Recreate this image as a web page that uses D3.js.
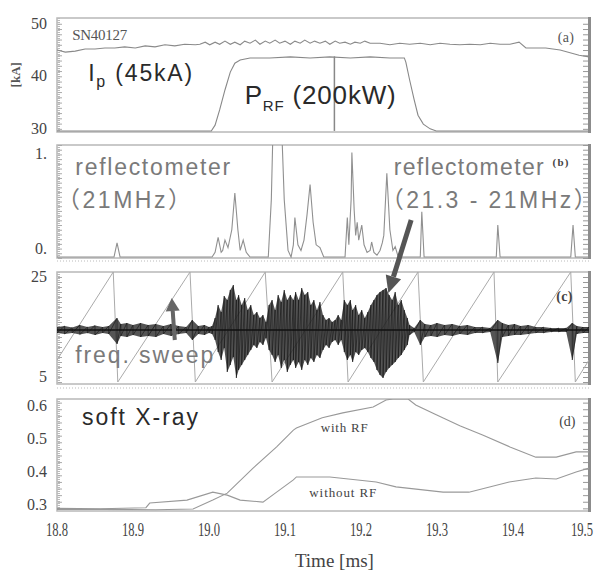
<!DOCTYPE html>
<html>
<head>
<meta charset="utf-8">
<script src="https://cdn.jsdelivr.net/npm/d3@7"></script>
<style>
body { margin: 0; background: #fff; }
svg { display: block; }
.serif { font-family: "Liberation Serif", "Times New Roman", serif; }
.sans { font-family: "Liberation Sans", Arial, "Noto Sans CJK JP", sans-serif; white-space: pre; }
</style>
</head>
<body>
<div id="chart"></div>
<script>
// ---- data (time in ms) ----
const timeTicks = [18.8, 18.9, 19.0, 19.1, 19.2, 19.3, 19.4, 19.5];

// (a) plasma current and RF power [kA scale]
const ipData = [
  [18.800,45.0],[18.811,44.6],[18.824,44.8],[18.837,45.2],[18.850,45.2],[18.863,45.4],[18.876,45.4],
  [18.889,45.6],[18.903,45.4],[18.916,45.8],[18.929,45.6],[18.942,46.0],[18.955,45.8],[18.968,46.1],
  [18.982,46.0],[18.988,46.1],[18.995,46.5],[19.001,46.0],[19.008,46.5],[19.014,46.1],[19.021,46.7],
  [19.028,46.1],[19.034,46.5],[19.041,46.0],[19.047,46.7],[19.054,46.3],[19.061,46.9],[19.067,46.1],
  [19.074,46.7],[19.080,46.3],[19.087,46.9],[19.093,46.3],[19.100,46.7],[19.107,46.1],[19.113,46.7],
  [19.120,46.3],[19.126,46.9],[19.133,46.3],[19.139,46.7],[19.146,46.3],[19.153,46.7],[19.159,46.1],
  [19.166,46.7],[19.172,46.3],[19.179,46.5],[19.186,46.1],[19.192,46.5],[19.199,46.3],[19.205,46.7],
  [19.212,46.3],[19.225,46.3],[19.238,46.0],[19.251,46.3],[19.264,46.1],[19.278,46.3],[19.291,46.0],
  [19.304,46.3],[19.317,46.1],[19.330,46.0],[19.343,46.1],[19.357,46.0],[19.370,46.3],[19.383,46.1],
  [19.396,46.1],[19.408,46.5],[19.417,45.4],[19.443,45.4],[19.462,45.0],[19.487,44.0],[19.500,43.7]
];
const prfData = [
  [18.800,29.6],[19.003,29.6],[19.008,30.7],[19.014,33.6],[19.021,37.4],[19.028,40.8],[19.034,42.5],
  [19.041,43.1],[19.054,43.5],[19.080,43.5],[19.107,43.7],[19.133,43.5],[19.159,43.7],[19.186,43.5],
  [19.212,43.7],[19.238,43.5],[19.257,43.5],[19.259,42.7],[19.264,39.3],[19.270,35.5],[19.275,32.6],
  [19.282,30.9],[19.291,30.0],[19.299,29.6],[19.500,29.6]
];
const markerLine = [[19.165,43.8],[19.165,29.6]];

// (b) reflectometer amplitude
const reflData = [
  [18.800,-0.09],[18.875,-0.09],[18.879,0.06],[18.883,-0.09],[19.004,-0.09],[19.008,-0.04],[19.012,0.12],
  [19.016,-0.04],[19.018,-0.02],[19.021,0.09],[19.025,0.01],[19.030,0.20],[19.034,0.59],[19.038,0.20],
  [19.041,-0.02],[19.045,0.09],[19.049,-0.04],[19.054,-0.09],[19.078,-0.09],[19.082,0.52],[19.084,1.2],
  [19.096,1.2],[19.099,0.52],[19.104,-0.02],[19.108,-0.09],[19.111,0.04],[19.113,0.33],[19.117,0.04],
  [19.121,-0.02],[19.125,0.09],[19.129,0.36],[19.133,0.68],[19.137,0.28],[19.141,0.04],[19.146,0.01],
  [19.151,-0.09],[19.179,-0.09],[19.182,0.33],[19.184,0.04],[19.187,0.52],[19.188,1.02],[19.191,0.41],
  [19.193,0.14],[19.195,0.28],[19.197,0.09],[19.201,0.25],[19.204,0.04],[19.208,-0.04],[19.212,-0.02],
  [19.214,0.07],[19.217,-0.04],[19.221,-0.07],[19.225,-0.02],[19.228,0.06],[19.230,0.14],[19.234,0.80],
  [19.238,0.20],[19.242,-0.02],[19.245,0.02],[19.249,-0.09],[19.278,-0.09],[19.280,0.39],[19.283,-0.09],
  [19.378,-0.09],[19.380,0.25],[19.383,-0.09],[19.476,-0.09],[19.479,0.25],[19.482,-0.09],[19.500,-0.09]
];

// (c) frequency sweep (sawtooth vertices) and fluctuation signal [t, upper, lower]
const sweepData = [
  [18.800,8.4],[18.874,26],[18.880,4.0],[18.975,26],[18.982,4.0],[19.074,26],[19.083,4.0],
  [19.176,26],[19.183,4.0],[19.275,26],[19.282,4.0],[19.375,26],[19.380,4.0],[19.476,26],
  [19.482,4.0],[19.500,8.4]
];
const sigCenter = 14.4;
const sigData = [
  [18.800,15.0,13.8],[18.810,15.2,13.6],[18.820,14.9,13.8],[18.830,15.4,13.5],[18.840,15.0,13.8],
  [18.850,15.3,13.4],[18.860,15.0,13.8],[18.868,15.2,13.6],[18.879,16.8,11.6],[18.884,15.6,13.2],
  [18.892,15.8,13.0],[18.900,15.4,13.4],[18.910,15.8,13.0],[18.920,15.4,13.2],[18.930,15.6,13.0],
  [18.940,15.2,13.6],[18.950,15.6,13.2],[18.960,15.2,13.6],[18.970,15.0,13.8],[18.978,16.4,12.4],
  [18.986,15.2,13.6],[18.994,15.4,13.4],[19.000,15.0,13.8],
  [19.004,15.2,13.6],[19.008,16.8,12.4],[19.012,19.4,10.0],[19.016,18.0,8.4],[19.020,21.2,10.8],
  [19.024,20.4,6.0],[19.028,22.4,7.4],[19.032,23.4,9.0],[19.036,20.4,4.8],[19.039,21.4,6.4],
  [19.043,19.4,7.4],[19.047,20.8,8.4],[19.051,18.4,9.4],[19.055,19.4,10.4],[19.059,17.4,11.4],
  [19.063,18.0,10.8],[19.067,16.8,12.0],[19.071,17.4,11.4],[19.075,16.0,12.8],[19.079,19.4,10.4],
  [19.083,20.4,9.4],[19.087,18.4,8.0],[19.091,21.4,9.4],[19.095,20.0,6.8],[19.099,22.4,8.4],
  [19.103,20.4,6.0],[19.107,21.4,7.4],[19.111,20.4,8.4],[19.114,22.0,6.8],[19.118,20.4,8.0],
  [19.122,22.8,6.4],[19.126,21.4,8.4],[19.130,22.0,7.4],[19.134,19.4,8.8],[19.138,20.4,8.0],
  [19.142,18.4,9.4],[19.146,20.0,8.8],[19.150,17.4,10.4],[19.154,16.4,11.4],[19.158,16.8,10.8],
  [19.162,16.0,12.0],[19.166,16.4,12.4],[19.170,17.4,11.4],[19.174,16.4,12.4],[19.178,20.4,10.0],
  [19.182,19.4,8.4],[19.186,20.4,9.4],[19.189,18.4,8.0],[19.193,19.4,10.0],[19.197,17.4,9.4],
  [19.201,18.4,10.4],[19.205,16.8,10.8],[19.209,18.0,10.0],[19.213,19.4,8.8],[19.217,20.4,8.0],
  [19.221,21.4,6.4],[19.225,22.0,5.4],[19.229,22.4,4.8],[19.233,22.8,6.0],[19.237,21.4,6.8],
  [19.241,20.4,7.4],[19.245,22.0,8.0],[19.249,19.4,8.8],[19.253,20.4,9.4],[19.257,18.4,10.4],
  [19.261,16.8,11.4],[19.264,15.4,13.4],
  [19.270,14.8,14.0],[19.278,16.4,11.4],[19.284,15.6,13.0],[19.292,15.4,13.2],[19.300,15.8,13.0],
  [19.310,15.4,13.4],[19.320,15.6,13.2],[19.330,15.2,13.6],[19.340,15.4,13.4],[19.350,15.0,13.8],
  [19.360,15.0,13.8],[19.370,14.8,14.0],[19.380,16.4,7.8],[19.386,15.8,13.0],[19.394,15.4,13.2],
  [19.402,15.6,13.4],[19.410,15.2,13.4],[19.420,15.4,13.6],[19.430,15.0,13.8],[19.440,15.0,13.8],
  [19.450,14.8,14.0],[19.460,14.8,14.0],[19.470,14.8,14.0],[19.478,15.8,8.4],[19.484,15.2,13.6],
  [19.492,15.0,13.8],[19.500,15.0,13.8]
];

// (d) soft X-ray
const sxrWithRF = [
  [18.800,0.287],[18.860,0.287],[18.930,0.286],[18.979,0.288],[19.005,0.315],[19.024,0.336],
  [19.058,0.412],[19.089,0.476],[19.111,0.527],[19.115,0.533],[19.149,0.564],[19.176,0.579],
  [19.216,0.597],[19.233,0.618],[19.242,0.621],[19.262,0.621],[19.272,0.603],[19.299,0.573],
  [19.330,0.540],[19.360,0.512],[19.396,0.476],[19.430,0.445],[19.457,0.445],[19.483,0.461],[19.500,0.461]
];
const sxrWithoutRF = [
  [18.800,0.290],[18.857,0.289],[18.917,0.292],[18.922,0.306],[18.971,0.315],[19.005,0.339],
  [19.024,0.330],[19.041,0.315],[19.071,0.309],[19.089,0.339],[19.111,0.376],[19.115,0.385],
  [19.159,0.385],[19.220,0.370],[19.246,0.355],[19.308,0.339],[19.342,0.339],[19.395,0.370],
  [19.430,0.382],[19.457,0.379],[19.483,0.400],[19.500,0.412]
];

// ---- layout ----
const W = 596, H = 571;
const x = d3.scaleLinear().domain([18.8, 19.5]).range([57, 589]);
const yA = d3.scaleLinear().domain([29.4, 51.1]).range([132, 18]);
const yB = d3.scaleLinear().domain([-0.1, 1.1]).range([258, 145]);
const yC = d3.scaleLinear().domain([3.6, 26]).range([384, 272]);
const yD = d3.scaleLinear().domain([0.282, 0.621]).range([511, 399]);

const svg = d3.select("#chart").append("svg").attr("width", W).attr("height", H);
const defs = svg.append("defs");

function frame(id, y, minor, labels, sep) {
  const [b, t] = y.range();
  defs.append("clipPath").attr("id", "clip-" + id)
    .append("rect").attr("x", 57).attr("y", t).attr("width", 532).attr("height", b - t);

  const g = svg.append("g");
  if (sep) g.append("line").attr("x1", 57).attr("x2", 589).attr("y1", t - 11).attr("y2", t - 11)
    .attr("stroke", "#bbb").attr("stroke-dasharray", "1,2");
  g.append("rect").attr("x", 57).attr("y", t).attr("width", 532).attr("height", b - t)
    .attr("fill", "none").attr("stroke", "#b8b8b8").attr("stroke-width", 1.5);
  g.append("line").attr("x1", 58.5).attr("x2", 58.5).attr("y1", t).attr("y2", b)
    .attr("stroke", "#bbb").attr("stroke-width", 3).attr("stroke-dasharray", "1,1");
  g.append("line").attr("x1", 589.5).attr("x2", 589.5).attr("y1", t - 1).attr("y2", b + 1)
    .attr("stroke", "#8c8c8c").attr("stroke-width", 3);

  g.append("g").attr("transform", "translate(58,0)")
    .call(d3.axisLeft(y).tickValues(minor).tickSize(-4).tickFormat(""))
    .call(s => s.select(".domain").remove())
    .call(s => s.selectAll("line").attr("stroke", "#aaa"));
  g.append("g").attr("transform", "translate(588,0)")
    .call(d3.axisRight(y).tickValues(minor).tickSize(-5).tickFormat(""))
    .call(s => s.select(".domain").remove())
    .call(s => s.selectAll("line").attr("stroke", "#999"));

  g.selectAll(".ylab").data(labels).enter().append("text")
    .attr("class", "serif")
    .attr("x", 47).attr("y", d => y(d[0]) + 5)
    .attr("text-anchor", "end")
    .style("font-size", "16px").attr("fill", "#444")
    .text(d => d[1]);

  return svg.append("g").attr("clip-path", `url(#clip-${id})`);
}

const line = y => d3.line().x(d => x(d[0])).y(d => y(d[1]));

// --- (a) ---
const gA = frame("a", yA, d3.range(30, 51, 1), [[30, "30"], [40, "40"], [50, "50"]], false);
gA.append("path").datum(ipData).attr("d", line(yA)).attr("fill", "none").attr("stroke", "#8a8a8a").attr("stroke-width", 1.1);
gA.append("path").datum(prfData).attr("d", line(yA)).attr("fill", "none").attr("stroke", "#888").attr("stroke-width", 1.1);
gA.append("path").datum(markerLine).attr("d", line(yA)).attr("fill", "none").attr("stroke", "#888").attr("stroke-width", 1.5);

// --- (b) ---
const gB = frame("b", yB, d3.range(-0.1, 1.11, 0.05), [[0, "0."], [1, "1."]], false);
gB.append("path").datum(reflData).attr("d", line(yB)).attr("fill", "none").attr("stroke", "#909090").attr("stroke-width", 1.1);

// --- (c) ---
const gC = frame("c", yC, d3.range(4, 26, 1), [[5, "5"], [25, "25"]], true);
gC.append("path").datum(sweepData).attr("d", line(yC)).attr("fill", "none").attr("stroke", "#aaa").attr("stroke-width", 1);
const env = d3.area().x(d => x(d[0])).y0(d => yC(d[2])).y1(d => yC(d[1])).curve(d3.curveLinear);
gC.append("path").datum(sigData).attr("d", env).attr("fill", "#2a2a2a").attr("fill-opacity", 0.8);
gC.append("path").datum([[18.8, sigCenter], [19.5, sigCenter]]).attr("d", line(yC))
  .attr("stroke", "#222").attr("stroke-width", 2);
const zig = sigData.flatMap(d => [[d[0], d[1]], [d[0], d[2]]]);
gC.append("path").datum(zig).attr("d", line(yC)).attr("fill", "none")
  .attr("stroke", "#111").attr("stroke-width", 0.8).attr("stroke-opacity", 0.7);

// --- (d) ---
const gD = frame("d", yD, d3.range(0.29, 0.62, 0.02), [[0.3, "0.3"], [0.4, "0.4"], [0.5, "0.5"], [0.6, "0.6"]], true);
gD.append("path").datum(sxrWithoutRF).attr("d", line(yD)).attr("fill", "none").attr("stroke", "#999").attr("stroke-width", 1.1);
gD.append("path").datum(sxrWithRF).attr("d", line(yD)).attr("fill", "none").attr("stroke", "#999").attr("stroke-width", 1.1);

// x axis labels (tall, condensed serif)
svg.selectAll(".xlab").data(timeTicks).enter().append("text")
  .attr("class", "serif")
  .attr("transform", d => `translate(${Math.min(x(d), 582)},536) scale(0.7,1)`)
  .attr("text-anchor", "middle")
  .style("font-size", "18px").attr("fill", "#444")
  .text(d3.format(".1f"));
svg.append("text").attr("class", "serif")
  .attr("x", x(19.165)).attr("y", 567).attr("text-anchor", "middle")
  .style("font-size", "19px").attr("fill", "#444").text("Time [ms]");
svg.append("text").attr("class", "serif")
  .attr("transform", `translate(20,${yA(40.3)}) rotate(-90)`).attr("text-anchor", "middle")
  .style("font-size", "13px").style("font-weight", "bold").attr("fill", "#555").text("[kA]");

// panel texts
function txt(str, t, y, v, size, color, len, cls) {
  return svg.append("text").attr("class", cls || "sans")
    .attr("x", x(t)).attr("y", y(v))
    .style("font-size", size + "px").attr("fill", color)
    .attr("textLength", len).attr("lengthAdjust", "spacing")
    .text(str);
}
txt("SN40127", 18.820, yA, 46.9, 15, "#555", 55, "serif");
txt("(a)", 19.459, yA, 46.5, 14, "#555", 16, "serif");

const ip = svg.append("text").attr("class", "sans").attr("x", x(18.841)).attr("y", yA(39.1))
  .style("font-size", "23px").attr("fill", "#2a2a2a").attr("textLength", 104).attr("lengthAdjust", "spacing");
ip.append("tspan").text("I");
ip.append("tspan").text("p").style("font-size", "16px").attr("dy", 6);
ip.append("tspan").text(" (45kA)").attr("dy", -6);

const prf = svg.append("text").attr("class", "sans").attr("x", x(19.047)).attr("y", yA(34.72))
  .style("font-size", "26px").attr("fill", "#2a2a2a").attr("textLength", 151).attr("lengthAdjust", "spacing");
prf.append("tspan").text("P");
prf.append("tspan").text("RF").style("font-size", "15px").attr("dy", 7);
prf.append("tspan").text(" (200kW)").attr("dy", -7);

txt("reflectometer", 18.824, yB, 0.78, 23, "#7a7a7a", 155);
txt("（21MHz）", 18.800, yB, 0.43, 23, "#7a7a7a", 134);
txt("reflectometer", 19.243, yB, 0.78, 23, "#7a7a7a", 150);
txt("（21.3 - 21MHz）", 19.226, yB, 0.43, 23, "#7a7a7a", 216);
txt("(b)", 19.452, yB, 0.88, 11, "#444", 16, "serif").style("font-weight", "bold");

txt("freq. sweep", 18.824, yC, 7.8, 23, "#7a7a7a", 138);
txt("(c)", 19.457, yC, 20.2, 14, "#444", 16, "serif").style("font-weight", "bold");

txt("soft X-ray", 18.833, yD, 0.542, 23, "#2a2a2a", 116);
txt("with RF", 19.147, yD, 0.521, 13, "#444", 47, "serif");
txt("without RF", 19.132, yD, 0.324, 13, "#444", 67, "serif");
txt("(d)", 19.461, yD, 0.539, 14, "#444", 16, "serif");

// arrows
const arrows = [
  {from: [18.955, 12.4], to: [18.951, 20.8], w: 4, hw: 14, hl: 13, color: "#666"},
  {from: [19.266, 36.4], to: [19.236, 21.8], w: 5, hw: 16, hl: 17, color: "#555"}
];
arrows.forEach(a => {
  const x0 = x(a.from[0]), y0 = yC(a.from[1]), x1 = x(a.to[0]), y1 = yC(a.to[1]);
  const L = Math.hypot(x1 - x0, y1 - y0), ux = (x1 - x0) / L, uy = (y1 - y0) / L;
  const bx = x1 - ux * a.hl, by = y1 - uy * a.hl, nx = -uy, ny = ux;
  svg.append("line").attr("x1", x0).attr("y1", y0).attr("x2", bx).attr("y2", by)
    .attr("stroke", a.color).attr("stroke-width", a.w);
  svg.append("path")
    .attr("d", `M${x1},${y1}L${bx + nx * a.hw / 2},${by + ny * a.hw / 2}L${bx - nx * a.hw / 2},${by - ny * a.hw / 2}Z`)
    .attr("fill", a.color);
});
</script>
</body>
</html>
